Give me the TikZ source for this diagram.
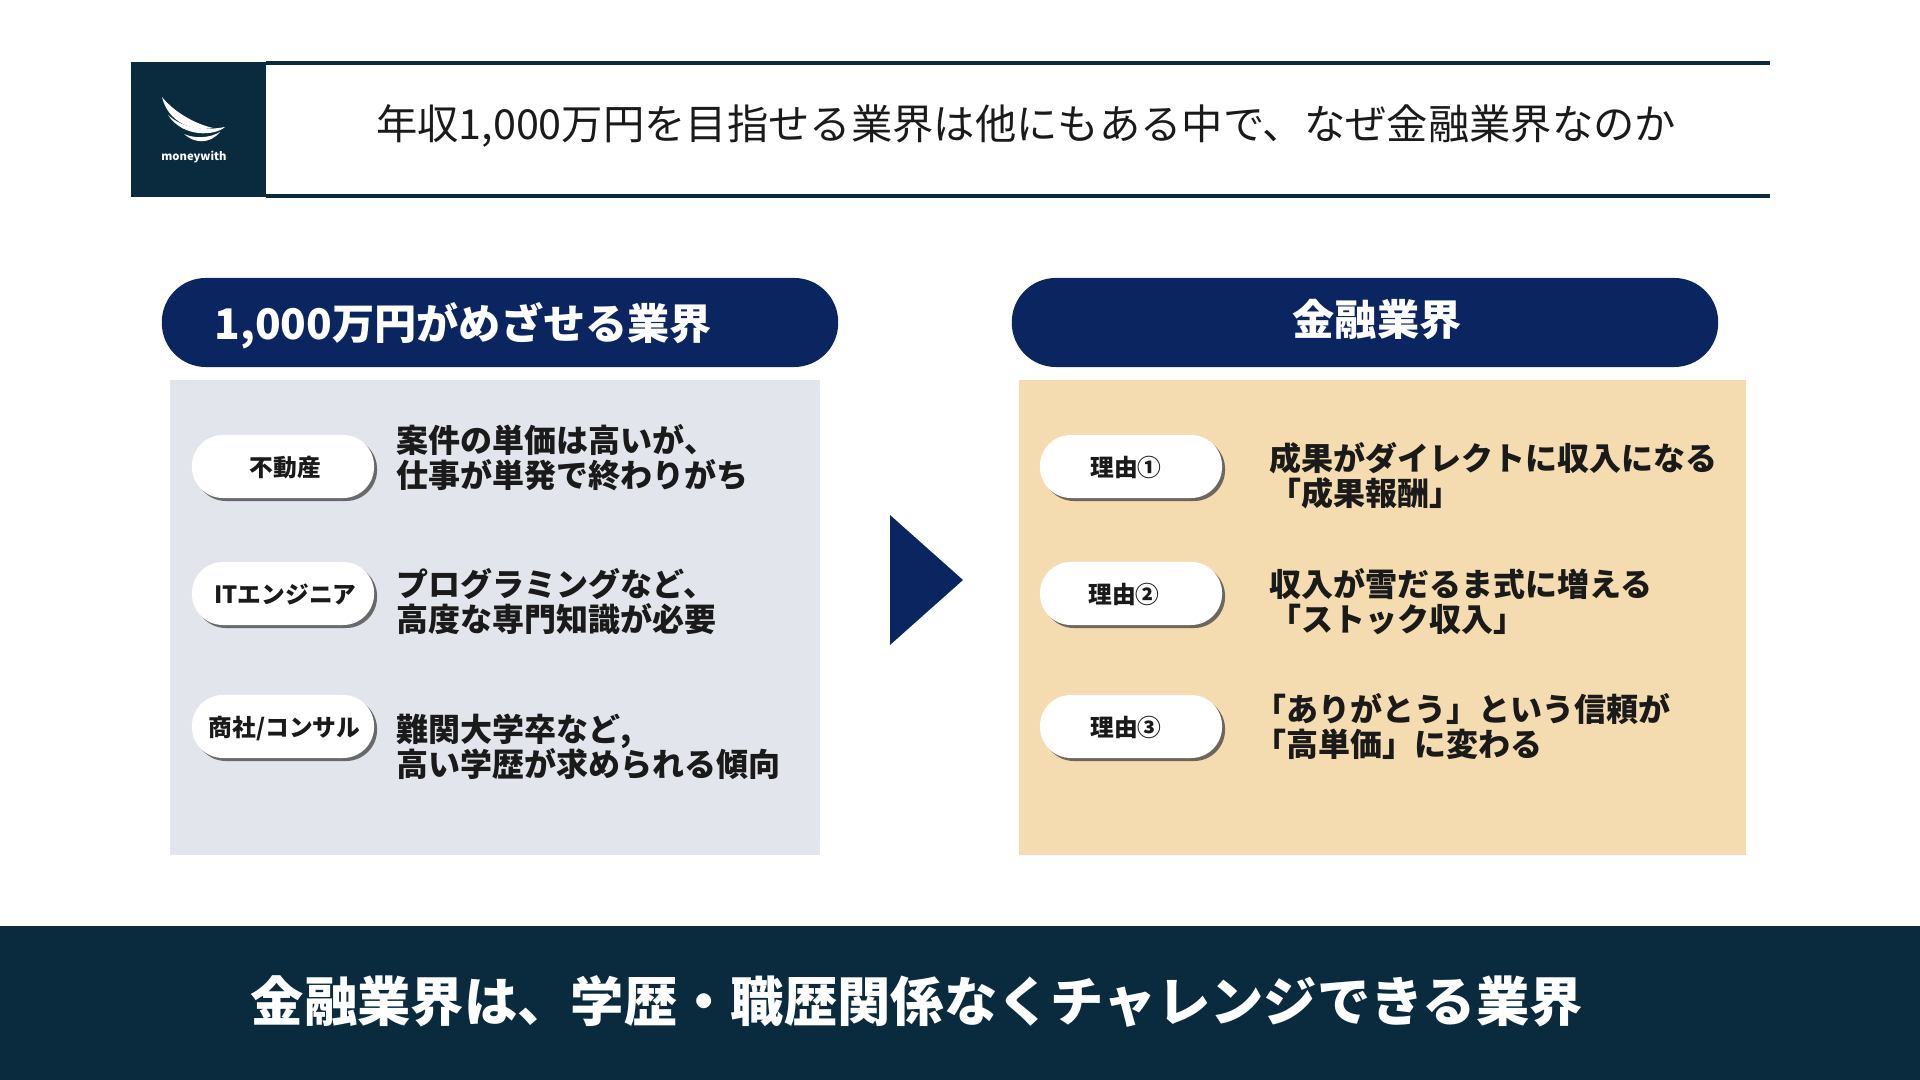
\documentclass[tikz,border=0pt]{standalone}
\usepackage{xcolor}
\usepackage{fontspec}
\setmainfont{Noto Sans CJK JP}
\usetikzlibrary{calc, positioning, shadows}
\definecolor{cdeep}{HTML}{0A2B3E}
\definecolor{cnavy}{HTML}{0B2560}
\definecolor{cpanel}{HTML}{E2E5EC}
\definecolor{ctan}{HTML}{F5DBB0}
\definecolor{cbk}{HTML}{1A1A1A}
\setlength{\lineskiplimit}{-5pt}
\tikzset{
    headpill/.style={fill=cnavy, rounded corners=0.44cm, minimum height=0.89cm, inner sep=0pt},
    tagpill/.style={fill=white, rounded corners=0.31cm, minimum width=1.82cm, minimum height=0.63cm, inner sep=0pt,
        text height=7pt, text depth=1.14pt,
        drop shadow={shadow xshift=0.03cm, shadow yshift=-0.03cm, fill=black!75, opacity=0.75},
        font=\fontsize{6.75}{8}\selectfont\bfseries\color{cbk}},
    reason/.style={anchor=west, align=left, inner sep=0pt, font=\fontsize{9.1}{9.96}\selectfont\bfseries\color{cbk}},
}
\begin{document}
\begin{tikzpicture}[x=0.01cm, y=-0.01cm]
    \useasboundingbox (0,0) rectangle (1920,1080);
    % header
    \draw[cdeep, line width=1.1pt] (266,63) -- (1770,63);
    \draw[cdeep, line width=1.1pt] (266,196) -- (1770,196);
    \node (logobox) [fill=cdeep, minimum size=1.35cm, inner sep=0pt] at (198.5,129.5) {};
    \node (title) [font=\fontsize{11.75}{14}\selectfont\color{cbk}] at (1026,126) {年収1,000万円を目指せる業界は他にもある中で、なぜ金融業界なのか};
    % logo
    \fill[white] (162,97) .. controls (174,112) and (195,124) .. (213,128) .. controls (192,132) and (168,122) .. (162,97);
    \fill[white] (168,115) .. controls (180,126) and (200,132) .. (225,127) .. controls (215,136) and (183,138) .. (168,115);
    \fill[white] (184,134) .. controls (195,139) and (210,138) .. (220,132) .. controls (210,144) and (195,144) .. (184,134);
    \node (logotext) [font=\fontsize{3.2}{4}\selectfont\bfseries\color{white}, inner sep=0pt] at (194,157) {moneywith};
    % left column
    \node (lefthead) [headpill, minimum width=6.76cm] at (500,322.5) {};
    \node (lefttitle) [anchor=west, inner sep=0pt, font=\fontsize{12}{15}\selectfont\bfseries\color{white}] at (214,326) {1,000万円がめざせる業界};
    \node (leftpanel) [fill=cpanel, minimum width=6.5cm, minimum height=4.75cm, inner sep=0pt] at (495,617.5) {};
    \node (tag1) [tagpill] at (283,466.5) {\hspace{0.05cm}不動産};
    \node (tag2) [tagpill] at (283,593.5) {\hspace{0.05cm}ITエンジニア};
    \node (tag3) [tagpill] at (283,726.5) {\hspace{0.03cm}商社/コンサル};
    \node (txt1) [reason] at (396,458) {案件の単価は高いが、\\仕事が単発で終わりがち};
    \node (txt2) [reason] at (396,602) {プログラミングなど、\\高度な専門知識が必要};
    \node (txt3) [reason] at (396,747) {難関大学卒など,\\高い学歴が求められる傾向};
    % arrow
    \fill[cnavy] (890,515) -- (963,580) -- (890,645) -- cycle;
    % right column
    \node (righthead) [headpill, minimum width=7.06cm] at (1365,322.5) {};
    \node (righttitle) [font=\fontsize{12}{15}\selectfont\bfseries\color{white}, inner sep=0pt] at (1377,320) {金融業界};
    \node (rightpanel) [fill=ctan, minimum width=7.27cm, minimum height=4.75cm, inner sep=0pt] at (1382.5,617.5) {};
    \node (why1) [tagpill] at (1131,466.5) {理由①\kern0.1cm};
    \node (why2) [tagpill] at (1131,593.5) {理由②\kern0.14cm};
    \node (why3) [tagpill] at (1131,726.5) {理由③\kern0.1cm};
    \node (res1) [reason] at (1269,476) {成果がダイレクトに収入になる\\「成果報酬」};
    \node (res2) [reason] at (1269,602) {収入が雪だるま式に増える\\「ストック収入」};
    \node (res3) [reason] at (1254,727) {「ありがとう」という信頼が\\「高単価」に変わる};
    % footer
    \node (footbar) [fill=cdeep, minimum width=19.2cm, minimum height=1.54cm, inner sep=0pt] at (960,1003) {};
    \node (foottext) [anchor=west, inner sep=0pt, font=\fontsize{15.17}{18}\selectfont\bfseries\color{white}] at (250,1002) {金融業界は、学歴・職歴関係なくチャレンジできる業界};
\end{tikzpicture}
\end{document}
